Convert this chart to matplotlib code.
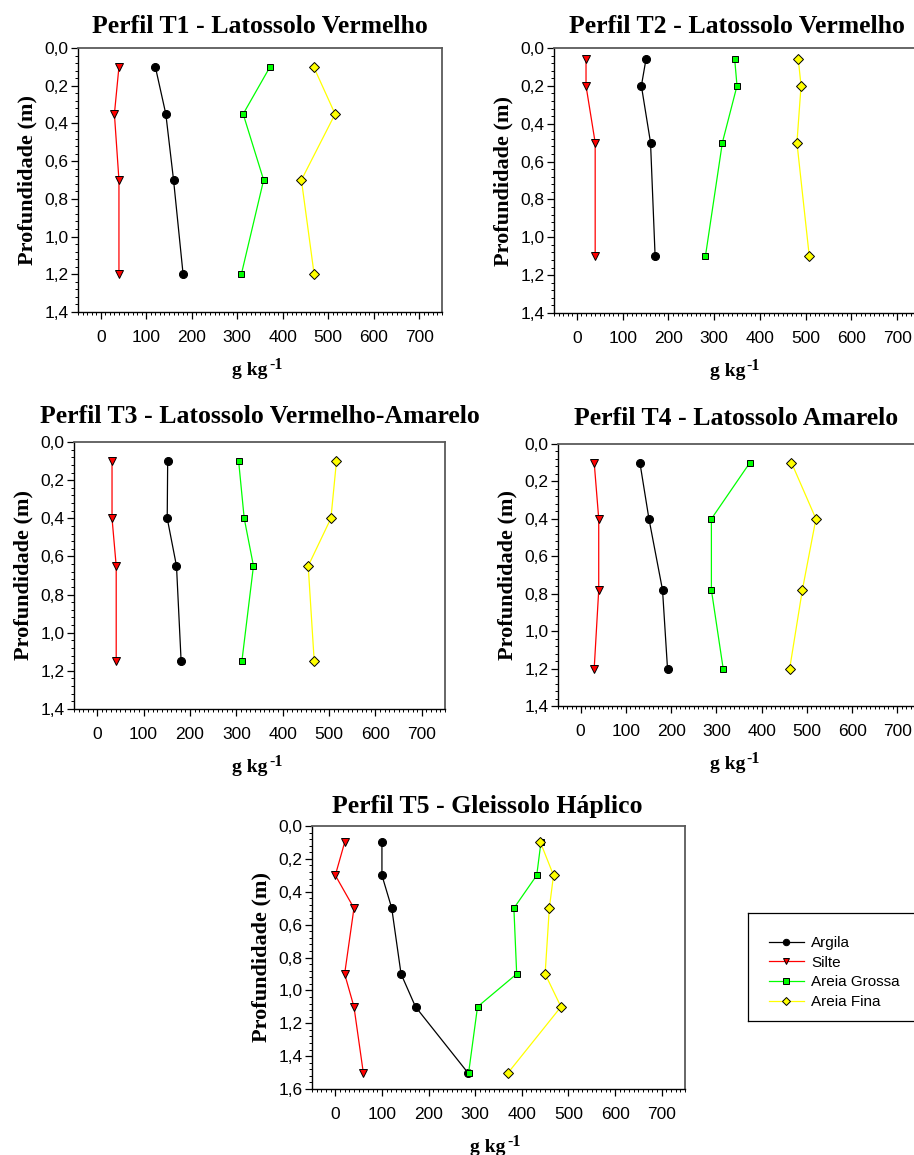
import matplotlib
matplotlib.use("Agg")
import matplotlib.pyplot as plt
from matplotlib.ticker import MultipleLocator, FuncFormatter

# ---------------- data ----------------
titles = ["Perfil T1 - Latossolo Vermelho",
          "Perfil T2 - Latossolo Vermelho",
          "Perfil T3 - Latossolo Vermelho-Amarelo",
          "Perfil T4 - Latossolo Amarelo",
          "Perfil T5 - Gleissolo Háplico"]
series_names = ["Argila", "Silte", "Areia Grossa", "Areia Fina"]

t1_depth = [0.10, 0.35, 0.70, 1.20]
t1_argila = [120, 143, 160, 181]
t1_silte = [40, 30, 40, 40]
t1_grossa = [372, 313, 358, 309]
t1_fina = [468, 515, 441, 469]

t2_depth = [0.06, 0.20, 0.50, 1.10]
t2_argila = [151, 141, 161, 171]
t2_silte = [20, 20, 40, 40]
t2_grossa = [345, 350, 318, 281]
t2_fina = [484, 490, 481, 508]

t3_depth = [0.10, 0.40, 0.65, 1.15]
t3_argila = [152, 151, 171, 181]
t3_silte = [32, 32, 41, 41]
t3_grossa = [305, 317, 337, 312]
t3_fina = [516, 504, 455, 468]

t4_depth = [0.10, 0.40, 0.78, 1.20]
t4_argila = [131, 151, 181, 192]
t4_silte = [30, 40, 40, 30]
t4_grossa = [374, 289, 289, 315]
t4_fina = [466, 520, 490, 462]

t5_depth = [0.10, 0.30, 0.50, 0.90, 1.10, 1.50]
t5_argila = [100, 100, 121, 141, 172, 284]
t5_silte = [20, 0, 40, 20, 40, 60]
t5_grossa = [441, 432, 383, 389, 305, 286]
t5_fina = [440, 468, 459, 450, 484, 371]

x_ticks = [0, 100, 200, 300, 400, 500, 600, 700]
x_unit = "g kg"
x_unit_exp = "-1"
y_label = "Profundidade (m)"

# --------------- styling ---------------
W, H = 914, 1155
fig = plt.figure(figsize=(W / 100, H / 100), dpi=100)

SERIF = ["Liberation Serif", "DejaVu Serif"]
SANS = ["Liberation Sans", "DejaVu Sans"]

styles = {
    "Argila": dict(color="black", marker="o", mfc="black", ms=5.8),
    "Silte": dict(color="#ff0000", marker="v", mfc="#ff0000", ms=5.2),
    "Areia Grossa": dict(color="#00ff00", marker="s", mfc="#00ff00", ms=4.6),
    "Areia Fina": dict(color="#ffff00", marker="D", mfc="#ffff00", ms=4.6),
}


def px_axes(left, top, right, bottom):
    return fig.add_axes([left / W, 1 - bottom / H, (right - left) / W, (bottom - top) / H])


panels = [
    (px_axes(78, 48, 442, 312), t1_depth, [t1_argila, t1_silte, t1_grossa, t1_fina], 1.4, 260, 33),
    (px_axes(554, 48, 920, 313), t2_depth, [t2_argila, t2_silte, t2_grossa, t2_fina], 1.4, 737, 33),
    (px_axes(74, 442, 445, 709), t3_depth, [t3_argila, t3_silte, t3_grossa, t3_fina], 1.4, 260, 423),
    (px_axes(558, 444, 920, 706), t4_depth, [t4_argila, t4_silte, t4_grossa, t4_fina], 1.4, 736, 425),
    (px_axes(312, 826, 685, 1089), t5_depth, [t5_argila, t5_silte, t5_grossa, t5_fina], 1.6, 487, 813),
]
# x-label centre in figure pixels for each panel
xlabel_cx = [260, 737, 260, 737, 498]

comma = FuncFormatter(lambda v, p: f"{v:.1f}".replace(".", ","))

handles = None
for i, (ax, depth, vals, ymax, tx, ty) in enumerate(panels):
    hs = []
    for name, v in zip(series_names, vals):
        st = styles[name]
        h, = ax.plot(v, depth, color=st["color"], lw=0.9, marker=st["marker"],
                     markerfacecolor=st["mfc"], markeredgecolor="black",
                     markeredgewidth=0.7, markersize=st["ms"], label=name, clip_on=False)
        hs.append(h)
    if handles is None:
        handles = hs
    ax.set_xlim(-50, 750)
    ax.set_ylim(ymax, 0)
    ax.set_xticks(x_ticks)
    ax.xaxis.set_minor_locator(MultipleLocator(10))
    ax.yaxis.set_major_locator(MultipleLocator(0.2))
    ax.yaxis.set_minor_locator(MultipleLocator(0.04))
    ax.yaxis.set_major_formatter(comma)
    ax.tick_params(which="both", direction="out", top=False, right=False)
    ax.tick_params(which="major", length=5, width=0.9, labelsize=12.5, pad=2)
    ax.tick_params(axis="x", which="major", pad=8)
    ax.tick_params(which="minor", length=2.5, width=0.7)
    for lab in ax.get_xticklabels() + ax.get_yticklabels():
        lab.set_family(SANS)
    for s in ("top", "right"):
        ax.spines[s].set_color("#5a5a5a")
        ax.spines[s].set_linewidth(1.3)
    for s in ("left", "bottom"):
        ax.spines[s].set_color("black")
        ax.spines[s].set_linewidth(1.0)
    ax.set_ylabel(y_label, family=SERIF, fontweight="bold", fontsize=16, labelpad=5)

    # x label "g kg" with a large superscript "-1"
    pos = ax.get_position()
    bottom_px = pos.y0 * H
    cx = xlabel_cx[i]
    base_y = bottom_px - 63
    fig.text((cx + 8) / W, base_y / H, x_unit, family=SERIF, fontweight="bold",
             fontsize=14, ha="right", va="baseline")
    fig.text((cx + 9) / W, (base_y + 6) / H, x_unit_exp, family=SERIF, fontweight="bold",
             fontsize=11.5, ha="left", va="baseline")

    fig.text(tx / W, 1 - ty / H, titles[i], family=SERIF, fontweight="bold", fontsize=18.5,
             ha="center", va="baseline")

# legend box
lax = px_axes(748, 913, 930, 1021)
lax.set_xticks([])
lax.set_yticks([])
for s in lax.spines.values():
    s.set_color("black")
    s.set_linewidth(0.9)
lax.patch.set_alpha(0)
leg = lax.legend(handles=handles, labels=series_names, loc="upper left",
                 bbox_to_anchor=(0.08, 0.845), frameon=False, handlelength=2.3,
                 handletextpad=0.5, labelspacing=0.38, borderaxespad=0,
                 prop=dict(family=SANS, size=11), markerscale=0.8)

fig.savefig("out.png", dpi=100)
